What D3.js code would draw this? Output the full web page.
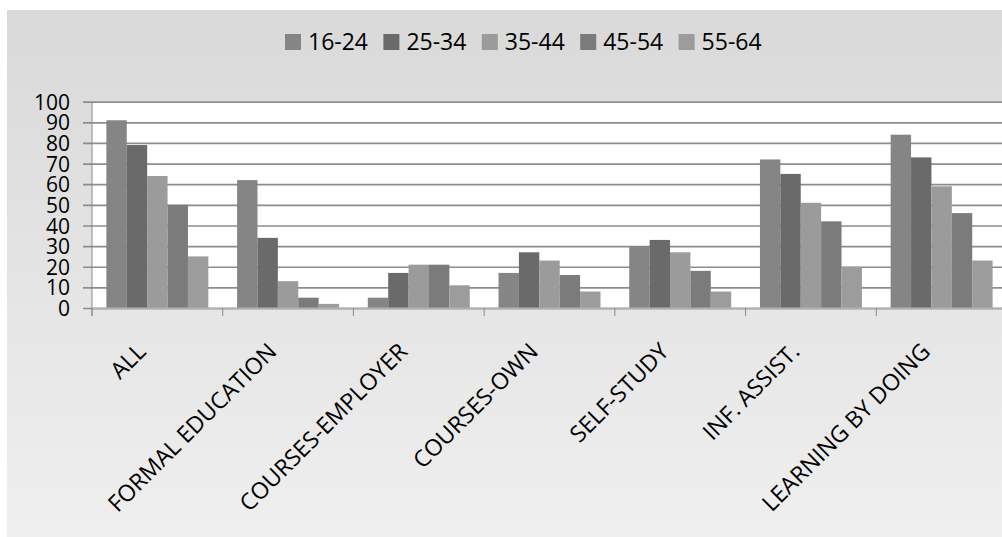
<!DOCTYPE html>
<html>
<head>
<meta charset="utf-8">
<script src="https://cdn.jsdelivr.net/npm/d3@7"></script>
<style>
  html, body { margin: 0; padding: 0; background: #ffffff; }
  svg { display: block; }
  text { font-family: "Open Sans", "Noto Sans", sans-serif; fill: #000; }
</style>
</head>
<body>
<svg id="chart" width="1002" height="537"></svg>
<script>
// Learning activity by age group (percent)
const categories = ["ALL", "FORMAL EDUCATION", "COURSES-EMPLOYER", "COURSES-OWN",
                    "SELF-STUDY", "INF. ASSIST.", "LEARNING BY DOING"];
const seriesNames = ["16-24", "25-34", "35-44", "45-54", "55-64"];
const age16_24 = [91, 62, 5, 17, 30, 72, 84];
const age25_34 = [79, 34, 17, 27, 33, 65, 73];
const age35_44 = [64, 13, 21, 23, 27, 51, 59];
const age45_54 = [50, 5, 21, 16, 18, 42, 46];
const age55_64 = [25, 2, 11, 8, 8, 20, 23];
const yTicks = [0, 10, 20, 30, 40, 50, 60, 70, 80, 90, 100];

const seriesValues = [age16_24, age25_34, age35_44, age45_54, age55_64];
const colors = ["#858585", "#6a6a6a", "#9b9b9b", "#7b7b7b", "#9c9c9c"];

const svg = d3.select("#chart");

// chart area background with vertical gradient
const defs = svg.append("defs");
const grad = defs.append("linearGradient").attr("id", "bg").attr("x1", 0).attr("y1", 0).attr("x2", 0).attr("y2", 1);
grad.append("stop").attr("offset", "0%").attr("stop-color", "#d9d9d9");
grad.append("stop").attr("offset", "100%").attr("stop-color", "#efefef");
svg.append("rect").attr("x", 7).attr("y", 10).attr("width", 1040).attr("height", 527).attr("fill", "url(#bg)");

const plot = { left: 92, right: 1007, top: 101.7, bottom: 308 };

const x0 = d3.scaleBand().domain(categories).range([plot.left, plot.right]).padding(0);
const bw = x0.bandwidth();
const x1 = d3.scaleBand().domain(seriesNames).range([bw * 0.11, bw * 0.89]).padding(0);
const y = d3.scaleLinear().domain([0, 100]).range([plot.bottom, plot.top]);

// plot area
svg.append("rect").attr("x", plot.left).attr("y", plot.top)
  .attr("width", plot.right - plot.left).attr("height", plot.bottom - plot.top).attr("fill", "#ffffff");

// gridlines and left axis
const yAxis = d3.axisLeft(y).tickValues(yTicks).tickSize(-(plot.right - plot.left)).tickPadding(22);
const gy = svg.append("g").attr("transform", `translate(${plot.left},0)`).call(yAxis);
gy.select(".domain").remove();
gy.selectAll(".tick line").attr("stroke", "#8c8c8c").attr("stroke-width", 1.7).attr("x1", -9);
gy.selectAll(".tick text").attr("font-size", 21).attr("font-family", "'Open Sans', sans-serif")
  .attr("fill", "#000").attr("dy", "0.36em");
svg.append("line").attr("x1", plot.left).attr("x2", plot.left).attr("y1", plot.top).attr("y2", plot.bottom + 8)
  .attr("stroke", "#8a8a8a").attr("stroke-width", 1);

// bars
const groups = svg.append("g").selectAll("g").data(categories).join("g")
  .attr("transform", d => `translate(${x0(d)},0)`);
groups.selectAll("rect")
  .data((c, i) => seriesNames.map((s, j) => ({ s, v: seriesValues[j][i], j })))
  .join("rect")
  .attr("x", d => x1(d.s))
  .attr("width", x1.bandwidth())
  .attr("y", d => y(d.v))
  .attr("height", d => y(0) - y(d.v))
  .attr("fill", d => colors[d.j]);

// category axis
const xAxis = d3.axisBottom(x0).tickSize(0).tickFormat("");
const gx = svg.append("g").attr("transform", `translate(0,${plot.bottom})`).call(xAxis);
gx.select(".domain").attr("stroke", "#b0b0b0").attr("stroke-width", 2);
gx.selectAll(".tick").remove();
const boundaries = categories.map(c => x0(c));
svg.append("g").selectAll("line").data(boundaries).join("line")
  .attr("x1", d => d).attr("x2", d => d).attr("y1", plot.bottom).attr("y2", plot.bottom + 8)
  .attr("stroke", "#8a8a8a").attr("stroke-width", 1);

// rotated category labels
svg.append("g").selectAll("text").data(categories).join("text")
  .attr("text-anchor", "end")
  .attr("font-size", 23)
  .attr("transform", d => `translate(${x0(d) + bw / 2 - 10},353) rotate(-45)`)
  .text(d => d);

// legend
const legend = svg.append("g").selectAll("g").data(seriesNames).join("g")
  .attr("transform", (d, i) => `translate(${285 + i * 98.4},0)`);
legend.append("rect").attr("x", 0).attr("y", 34).attr("width", 16).attr("height", 16)
  .attr("fill", (d, i) => colors[i]);
legend.append("text").attr("x", 23).attr("y", 50).attr("font-size", 23).text(d => d);
</script>
</body>
</html>
